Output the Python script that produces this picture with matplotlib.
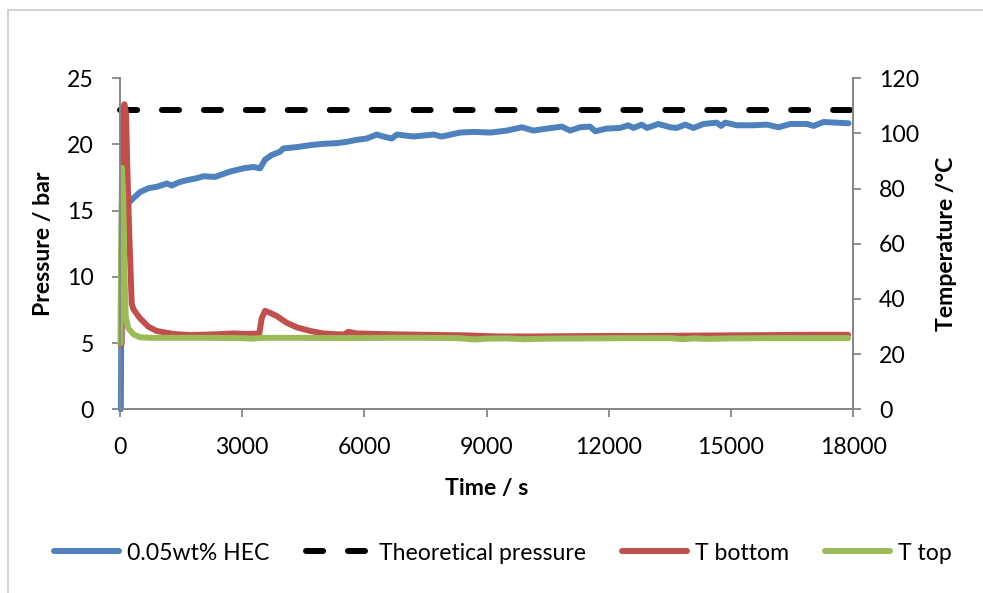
import matplotlib
matplotlib.use("Agg")
import matplotlib.pyplot as plt
from matplotlib.patches import Rectangle

plt.rcParams["font.family"] = ["Lato", "DejaVu Sans"]
plt.rcParams["lines.scale_dashes"] = False

# pressure log, 0.05 wt% HEC run (time in s, pressure in bar)
blue_t = [20, 45, 200, 330, 490, 700, 900, 1150, 1270, 1450, 1640, 1880, 2050,
          2330, 2700, 3030, 3270, 3440, 3560, 3720, 3930, 4010, 4340, 4670,
          4990, 5320, 5570, 5810, 6060, 6300, 6470, 6670, 6800, 7200, 7700,
          7900, 8350, 8680, 9100, 9500, 9870, 10150, 10480, 10850, 11050,
          11300, 11540, 11670, 11950, 12280, 12480, 12610, 12810, 12940,
          13220, 13510, 13670, 13880, 14080, 14330, 14650, 14760, 14860,
          15150, 15550, 15880, 16170, 16460, 16870, 17030, 17280, 17890]
blue_p = [0.0, 15.4, 15.55, 15.95, 16.4, 16.7, 16.8, 17.05, 16.9, 17.15, 17.3,
          17.45, 17.6, 17.55, 17.95, 18.2, 18.3, 18.2, 18.85, 19.2, 19.45,
          19.7, 19.8, 19.95, 20.05, 20.1, 20.2, 20.35, 20.45, 20.75, 20.6,
          20.45, 20.75, 20.6, 20.75, 20.6, 20.9, 20.95, 20.9, 21.05, 21.3,
          21.05, 21.2, 21.35, 21.05, 21.3, 21.35, 21.0, 21.2, 21.25, 21.45,
          21.25, 21.5, 21.25, 21.55, 21.3, 21.25, 21.5, 21.25, 21.55, 21.65,
          21.4, 21.65, 21.45, 21.45, 21.5, 21.3, 21.55, 21.55, 21.4, 21.7,
          21.6]

theory_t = [0, 18000]
theory_p = [22.6, 22.6]

# thermocouples (degC)
red_t = [15, 40, 80, 106, 147, 180, 229, 287, 327, 490, 700, 900, 1310, 1720,
         2370, 2780, 3110, 3420, 3480, 3560, 3680, 3850, 4090, 4340, 4670,
         4990, 5320, 5500, 5610, 5810, 6630, 7500, 8500, 9300, 10100, 11000,
         12000, 13000, 14000, 15000, 16000, 17000, 17880]
red_T = [23.3, 24.0, 105.0, 110.6, 107.3, 86.8, 62.6, 38.4, 36.3, 33.0, 29.9,
         28.4, 27.3, 26.9, 27.2, 27.5, 27.3, 27.5, 33.0, 35.7, 35.0, 33.8,
         31.4, 29.7, 28.4, 27.5, 27.2, 27.1, 28.1, 27.5, 27.2, 27.0, 26.8,
         26.4, 26.4, 26.5, 26.6, 26.6, 26.7, 26.8, 26.9, 27.0, 27.0]

green_t = [10, 30, 50, 82, 106, 140, 204, 327, 491, 800, 1500, 2200, 3000,
           3250, 3500, 4500, 5500, 6500, 7500, 8300, 8700, 9000, 9500, 9900,
           10500, 11500, 12500, 13500, 13830, 14100, 14420, 15000, 16000,
           17000, 17880]
green_T = [23.9, 60.0, 87.5, 74.7, 50.5, 33.6, 29.4, 27.2, 26.1, 25.9, 25.9,
           25.9, 25.8, 25.6, 25.9, 25.9, 25.8, 25.9, 25.9, 25.8, 25.3, 25.6,
           25.7, 25.4, 25.6, 25.7, 25.8, 25.8, 25.4, 25.7, 25.5, 25.7, 25.8,
           25.8, 25.8]

x_ticks = [0, 3000, 6000, 9000, 12000, 15000, 18000]
p_ticks = [0, 5, 10, 15, 20, 25]
T_ticks = [0, 20, 40, 60, 80, 100, 120]

FS = 16.6
GREY = "#868686"
LW = 4.3

fig = plt.figure(figsize=(9.83, 5.93), dpi=100)
ax = fig.add_axes([0.1221, 0.3098, 0.7457, 0.5582])
ax2 = ax.twinx()

kw = dict(lw=LW, solid_capstyle="round", solid_joinstyle="round", clip_on=False)
l1, = ax.plot(blue_t, blue_p, color="#4F81BD", label="0.05wt% HEC", **kw)
l2, = ax.plot(theory_t, theory_p, color="black", lw=LW, dashes=(12.3, 17.9),
              dash_capstyle="round", clip_on=False, label="Theoretical pressure")
l3, = ax2.plot(red_t, red_T, color="#C0504D", label="T bottom", **kw)
l4, = ax2.plot(green_t, green_T, color="#9BBB59", label="T top", **kw)

ax.set_xlim(0, 18000)
ax.set_ylim(0, 25)
ax2.set_ylim(0, 120)
ax.set_xticks(x_ticks)
ax.set_yticks(p_ticks)
ax2.set_yticks(T_ticks)

for a in (ax, ax2):
    for s in a.spines.values():
        s.set_color(GREY)
        s.set_linewidth(1.3)
    a.spines["top"].set_visible(False)
    a.tick_params(colors=GREY, labelcolor="black", labelsize=FS, length=5.8,
                  width=1.3, pad=13)
ax.tick_params(axis="x", pad=14)

ax.set_xlabel("Time / s", fontsize=FS, fontweight="bold", va="center")
ax.xaxis.set_label_coords(0.5, -0.238)
ax.set_ylabel("Pressure / bar", fontsize=FS, fontweight="bold",
              va="center", ha="center")
ax.yaxis.set_label_coords(-0.105, 0.5)
ax2.set_ylabel("Temperature /°C", fontsize=FS, fontweight="bold",
               va="center", ha="center", rotation=90)
ax2.yaxis.set_label_coords(1.128, 0.5)

fig.legend([l1, l2, l3, l4], [l.get_label() for l in (l1, l2, l3, l4)],
           ncol=4, loc="center", bbox_to_anchor=(503 / 983, 1 - 553 / 593),
           frameon=False, fontsize=FS, handlelength=2.82, handletextpad=0.35,
           columnspacing=1.56, borderpad=0, borderaxespad=0)

# chart-area frame
fig.add_artist(Rectangle((8 / 983, -0.1), 1.2, 0.983 + 0.1,
                         transform=fig.transFigure, fill=False,
                         edgecolor="#C8C8C8", lw=1.1))

fig.savefig("out.png", dpi=100)
